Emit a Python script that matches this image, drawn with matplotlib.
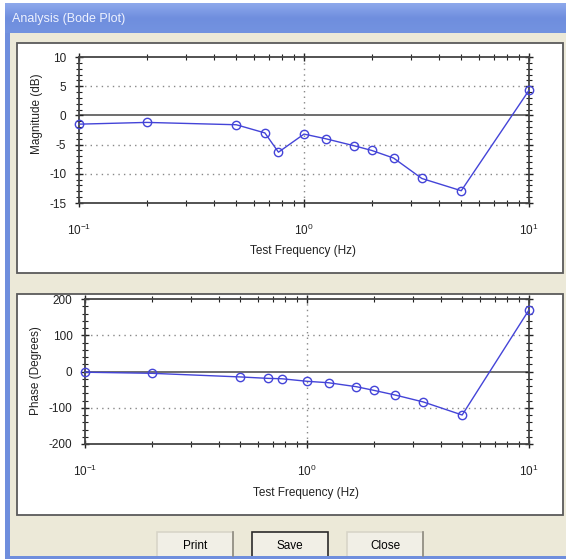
"""Bode plot dialog recreated with matplotlib."""

import matplotlib
import matplotlib.pyplot as plt
import numpy as np
from matplotlib.patches import Rectangle
from matplotlib.ticker import LogLocator, MultipleLocator, NullFormatter

matplotlib.use('Agg')

# Data
freq_hz = [0.1, 0.2, 0.5, 0.67, 0.77, 1.0, 1.25, 1.67, 2.0, 2.5, 3.34, 5.0, 10.0]
magnitude_db = [-1.5, -1.2, -1.6, -3.0, -6.3, -3.2, -4.0, -5.2, -6.0, -7.3, -10.8, -12.9, 4.3]
phase_deg = [-2, -5, -15, -19, -20, -27, -31, -42, -52, -65, -84, -120, 170]

mag_ticks = [-15, -10, -5, 0, 5, 10]
phase_ticks = [-200, -100, 0, 100, 200]
buttons = ['Print', 'Save', 'Close']

W, H = 566, 559
BG = '#ECE9D8'
LINE_COLOR = '#4444D8'
FONT = ['Liberation Sans', 'DejaVu Sans']

plt.rcParams['font.family'] = FONT
plt.rcParams['axes.unicode_minus'] = False


def box(x0, y0, x1, y1):
    """Pixel box (top-left origin) -> figure fraction rect."""
    return [x0 / W, 1 - y1 / H, (x1 - x0) / W, (y1 - y0) / H]


fig = plt.figure(figsize=(W / 100, H / 100), dpi=100)
fig.patch.set_facecolor(BG)

# background canvas in pixel coordinates
bg = fig.add_axes([0, 0, 1, 1])
bg.set_xlim(0, W)
bg.set_ylim(H, 0)
bg.axis('off')

# window border and title bar
bg.add_patch(Rectangle((0, 0), 5, H, facecolor='white', edgecolor='none'))
bg.add_patch(Rectangle((5, 0), 5, H, facecolor='#6F8EDD', edgecolor='none'))
bg.add_patch(Rectangle((0, 0), W, 3, facecolor='white', edgecolor='none'))
grad = np.linspace(0, 1, 64).reshape(-1, 1)
bg.imshow(grad, extent=(5, W, 33, 3), aspect='auto', zorder=1,
          cmap=matplotlib.colors.LinearSegmentedColormap.from_list(
              'tb', ['#8EA9EC', '#6F8EDE', '#7393E0']))
bg.text(12, 19, 'Analysis (Bode Plot)', color='#EEF2FF', fontsize=9,
        va='center', ha='left', zorder=3)
bg.add_patch(Rectangle((5, 556), W, 3, facecolor='#6F8EDD', edgecolor='none', zorder=3))

# white panels
for y0, y1 in [(43, 273), (294, 515)]:
    bg.add_patch(Rectangle((17, y0), 546, y1 - y0, facecolor='white',
                           edgecolor='#5A5A5A', lw=1.3, zorder=2))

# buttons
for name, x0 in zip(buttons, [157, 252, 347]):
    edge = '#2B2B2B' if name == 'Save' else '#D8D5C8'
    bg.add_patch(Rectangle((x0, 532), 76, 28, facecolor='#F1EFE6',
                           edgecolor=edge, lw=1.2, zorder=2))
    if name != 'Save':
        bg.plot([x0 + 76, x0 + 76], [532, 556], color='#8E8B80', lw=1.2, zorder=3)
    bg.text(x0 + 38, 546, name, fontsize=8.5, ha='center', va='center', zorder=3)


def style_axes(ax, yticks, minor_step):
    ax.set_xscale('log')
    ax.set_xlim(0.1, 10)
    ax.set_ylim(yticks[0], yticks[-1])
    ax.set_yticks(yticks)
    ax.yaxis.set_minor_locator(MultipleLocator(minor_step))
    ax.xaxis.set_minor_locator(LogLocator(base=10, subs=np.arange(2, 10)))
    ax.xaxis.set_minor_formatter(NullFormatter())
    ax.tick_params(which='both', direction='inout', top=True, right=True,
                   labelsize=8.5, colors='#222222')
    ax.tick_params(which='major', length=6, width=1)
    ax.tick_params(which='minor', length=4, width=0.8)
    ax.tick_params(axis='x', pad=11)
    ax.tick_params(axis='y', pad=6)
    for side in ax.spines.values():
        side.set_color('#444444')
        side.set_linewidth(1.3)
    for t in yticks[1:-1]:
        if t == 0:
            ax.axhline(0, color='#555555', lw=1.2, zorder=1)
        else:
            ax.axhline(t, color='#888888', lw=1, ls=(0, (1, 3)), zorder=1)
    ax.axvline(1.0, color='#888888', lw=1, ls=(0, (1, 3)), zorder=1)
    ax.set_zorder(5)
    ax.patch.set_alpha(0)


ax_mag = fig.add_axes(box(79, 57, 529, 203))
ax_mag.plot(freq_hz, magnitude_db, color=LINE_COLOR, lw=1, marker='o',
            markersize=6, mfc='none', mec=LINE_COLOR, mew=1, clip_on=False, zorder=3)
style_axes(ax_mag, mag_ticks, 1)

ax_ph = fig.add_axes(box(85, 299, 529, 444))
ax_ph.plot(freq_hz, phase_deg, color=LINE_COLOR, lw=1, marker='o',
           markersize=6, mfc='none', mec=LINE_COLOR, mew=1, clip_on=False, zorder=3)
style_axes(ax_ph, phase_ticks, 20)

# axis labels placed in pixel coordinates
bg.text(37, 114, 'Magnitude (dB)', rotation=90, fontsize=8.5, ha='center',
        va='center', color='#222222', zorder=6)
bg.text(303, 251, 'Test Frequency (Hz)', fontsize=8.5, ha='center',
        va='center', color='#222222', zorder=6)
bg.text(36, 371, 'Phase (Degrees)', rotation=90, fontsize=8.5, ha='center',
        va='center', color='#222222', zorder=6)
bg.text(306, 493, 'Test Frequency (Hz)', fontsize=8.5, ha='center',
        va='center', color='#222222', zorder=6)

fig.savefig('out.png', dpi=100, facecolor=fig.get_facecolor())
plt.close(fig)
